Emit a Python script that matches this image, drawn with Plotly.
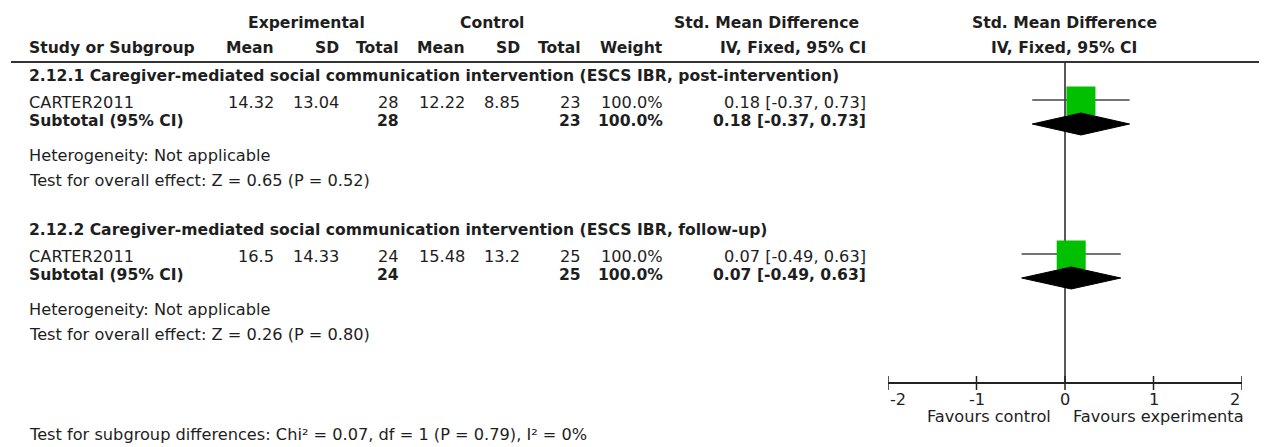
import plotly.graph_objects as go

# ---------------- data ----------------
group_titles = [
    "2.12.1 Caregiver-mediated social communication intervention (ESCS IBR, post-intervention)",
    "2.12.2 Caregiver-mediated social communication intervention (ESCS IBR, follow-up)",
]
study_names = ["CARTER2011", "CARTER2011"]
exp_mean = [14.32, 16.5]
exp_sd = [13.04, 14.33]
exp_n = [28, 24]
ctl_mean = [12.22, 15.48]
ctl_sd = [8.85, 13.2]
ctl_n = [23, 25]
weights = [100.0, 100.0]
smd = [0.18, 0.07]
ci_lo = [-0.37, -0.49]
ci_hi = [0.73, 0.63]
heterogeneity = ["Not applicable", "Not applicable"]
overall_z = [0.65, 0.26]
overall_p = [0.52, 0.80]
tick_vals = [-2, -1, 0, 1, 2]
tick_text = ["-2", "-1", "0", "1", "2"]
subgroup_chi2 = 0.07
subgroup_df = 1
subgroup_p = 0.79
subgroup_i2 = 0
favours_left = "Favours control"
favours_right = "Favours experimenta"

# ---------------- layout constants ----------------
W, H = 1266, 447
FONT = "DejaVu Sans"
REG = 16.2
BOLD = 15.6
TXT = "#1e1e1e"
STUDY_Y0 = 103
GROUP_STEP = 154
AXIS_Y = 383

fig = go.Figure()
annotations = []
shapes = []


def px(x):
    return x / W


def text(x, y, s, anchor="left", bold=False, size=None, color=TXT):
    annotations.append(dict(
        x=px(x), y=y, xref="paper", yref="y", text=(f"<b>{s}</b>" if bold else s),
        showarrow=False, xanchor=anchor, yanchor="middle",
        font=dict(family=FONT, size=size or (BOLD if bold else REG), color=color),
    ))


# header
text(306, 23, "Experimental", "center", True)
text(492, 23, "Control", "center", True)
text(766, 23, "Std. Mean Difference", "center", True)
text(1064, 23, "Std. Mean Difference", "center", True)
text(27, 48, "Study or Subgroup", "left", True)
col_right = [276, 341, 401, 467, 522, 583, 665, 868]
hdrs = ["Mean", "SD", "Total", "Mean", "SD", "Total", "Weight", "IV, Fixed, 95% CI"]
for xr, h in zip(col_right, hdrs):
    text(xr, 48, h, "right", True)
text(1064, 48, "IV, Fixed, 95% CI", "center", True)

shapes.append(dict(type="line", xref="paper", yref="y", x0=px(11), x1=px(1259),
                   y0=62, y1=62, line=dict(color="#333", width=2)))

for g in range(len(group_titles)):
    sy = STUDY_Y0 + g * GROUP_STEP
    text(27, sy - 27, group_titles[g], "left", True)
    # study row
    vals = [f"{exp_mean[g]:g}", f"{exp_sd[g]:g}", f"{exp_n[g]}", f"{ctl_mean[g]:g}",
            f"{ctl_sd[g]:g}", f"{ctl_n[g]}", f"{weights[g]:.1f}%",
            f"{smd[g]:.2f} [{ci_lo[g]:.2f}, {ci_hi[g]:.2f}]"]
    text(27, sy - 1, study_names[g])
    for xr, v in zip(col_right, vals):
        text(xr, sy - 1, v, "right")
    # subtotal row
    text(27, sy + 18, "Subtotal (95% CI)", "left", True)
    sub = {2: f"{exp_n[g]}", 5: f"{ctl_n[g]}", 6: f"{weights[g]:.1f}%",
           7: f"{smd[g]:.2f} [{ci_lo[g]:.2f}, {ci_hi[g]:.2f}]"}
    for i, v in sub.items():
        text(col_right[i], sy + 18, v, "right", True)
    text(27, sy + 52, f"Heterogeneity: {heterogeneity[g]}")
    text(27, sy + 77, f"Test for overall effect: Z = {overall_z[g]:.2f} (P = {overall_p[g]:.2f})")

    # CI line
    fig.add_trace(go.Scatter(x=[ci_lo[g], ci_hi[g]], y=[sy - 3, sy - 3], mode="lines",
                             line=dict(color="#444", width=1.6), hoverinfo="skip",
                             showlegend=False))
    # square
    fig.add_trace(go.Scatter(x=[smd[g]], y=[sy - 2], mode="markers",
                             marker=dict(symbol="square", size=29 * weights[g] / 100,
                                         color="#00C000", line=dict(width=0)),
                             hoverinfo="skip", showlegend=False))
    # diamond
    dy = sy + 21
    fig.add_trace(go.Scatter(x=[ci_lo[g], smd[g], ci_hi[g], smd[g], ci_lo[g]],
                             y=[dy, dy - 11, dy, dy + 11, dy], mode="lines",
                             fill="toself", fillcolor="#000", line=dict(color="#000", width=1),
                             hoverinfo="skip", showlegend=False))

# vertical null line
shapes.append(dict(type="line", xref="x", yref="y", x0=0, x1=0, y0=62, y1=AXIS_Y,
                   line=dict(color="#222", width=1.5), layer="below"))
# ticks and tick labels
for v, t in zip(tick_vals, tick_text):
    shapes.append(dict(type="line", xref="x", yref="y", x0=v, x1=v, y0=AXIS_Y - 7,
                       y1=AXIS_Y + 7, line=dict(color="#222", width=1.5)))
    anc = "left" if v == tick_vals[0] else ("right" if v == tick_vals[-1] else "center")
    annotations.append(dict(x=v, y=399, xref="x", yref="y", text=t, showarrow=False,
                            xanchor=anc, yanchor="middle",
                            font=dict(family=FONT, size=REG, color=TXT)))
text(1053, 416.5, favours_left, "right")
text(1071, 416.5, favours_right, "left")

text(27, 434, f"Test for subgroup differences: Chi² = {subgroup_chi2:.2f}, df = {subgroup_df} "
              f"(P = {subgroup_p:.2f}), I² = {subgroup_i2}%")

fig.update_layout(
    width=W, height=H, margin=dict(l=0, r=0, t=0, b=0),
    paper_bgcolor="white", plot_bgcolor="rgba(0,0,0,0)",
    xaxis=dict(domain=[888 / W, 1242 / W], range=[-2, 2], anchor="free",
               position=(H - AXIS_Y) / H, showline=True, linecolor="#222", linewidth=1.5,
               showgrid=False, zeroline=False, ticks="", showticklabels=False, fixedrange=True),
    yaxis=dict(domain=[0, 1], range=[H, 0], visible=False, fixedrange=True),
    annotations=annotations, shapes=shapes, showlegend=False,
)

fig.write_html("out.html", post_script="document.body.style.margin='0';",
               config={"displayModeBar": False})
